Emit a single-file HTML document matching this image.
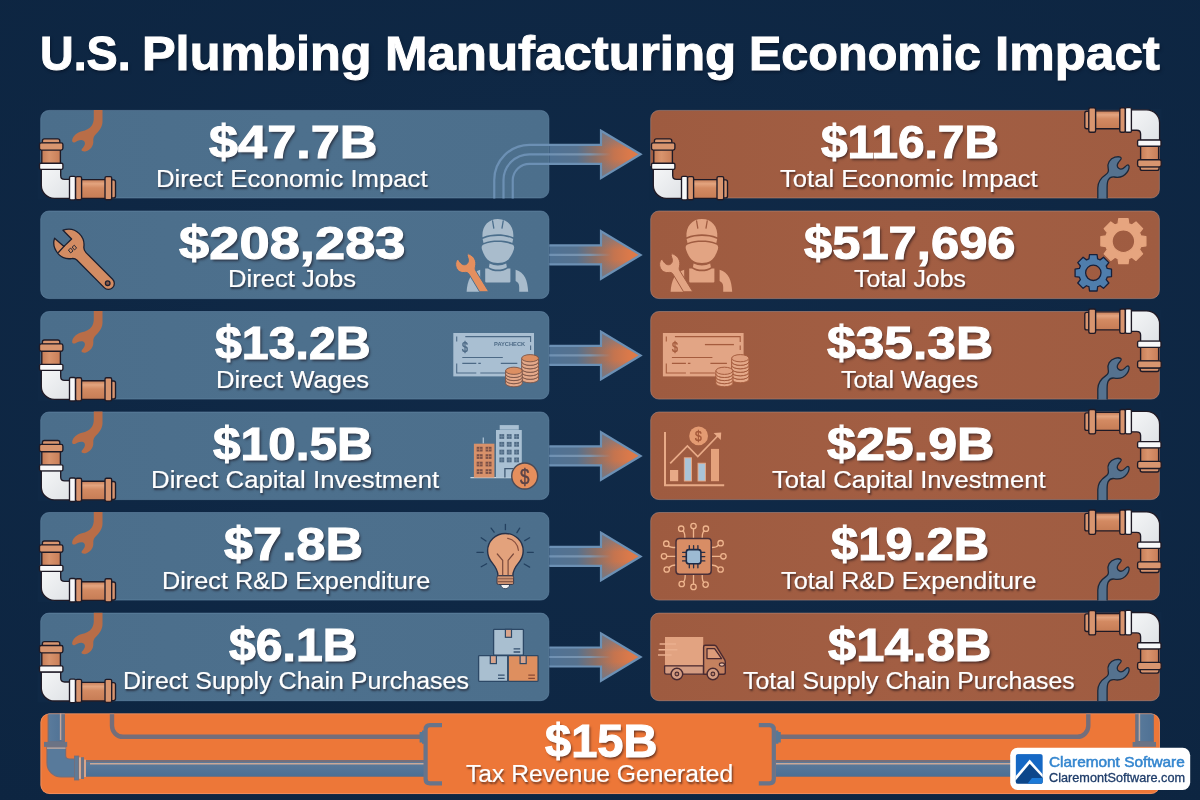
<!DOCTYPE html>
<html lang="en">
<head>
<meta charset="utf-8">
<title>U.S. Plumbing Manufacturing Economic Impact</title>
<style>
html,body{margin:0;padding:0;}
html{background:#0f2845;}
body{width:1200px;height:800px;overflow:hidden;background:#0f2845;position:relative;font-family:"Liberation Sans",sans-serif;}
#art{position:absolute;left:0;top:0;width:1200px;height:800px;display:block;}
h1{position:absolute;left:0;margin:0;padding:0;white-space:nowrap;color:#fff;font-weight:700;text-shadow:1px 2px 3px rgba(4,10,24,.55);-webkit-text-stroke:1px #fff;}
h1 .w{display:inline-block;position:relative;transform-origin:0 0;}
.t{position:absolute;white-space:nowrap;transform-origin:0 0;margin:0;padding:0;color:#fff;display:block;}
.num{font-weight:700;text-shadow:1.5px 2px 2.5px rgba(20,12,20,.6);-webkit-text-stroke:1.1px #fff;}
.lab{font-weight:400;text-shadow:1px 1.5px 2px rgba(20,12,20,.6);-webkit-text-stroke:0.2px #fff;}
.wm{font-weight:400;-webkit-text-stroke:0.5px #3486cf;}
.ico{font-weight:400;-webkit-text-stroke:0.5px currentColor;}
.icob{font-weight:700;}
.wm2{font-weight:400;-webkit-text-stroke:0.3px #1f3d6a;}
</style>
</head>
<body>
<svg id="art" width="1200" height="800" viewBox="0 0 1200 800" aria-hidden="true">
<defs>
<radialGradient id="bgg" cx="50%" cy="45%" r="75%">
<stop offset="0" stop-color="#102a48"/><stop offset="1" stop-color="#0d2541"/>
</radialGradient>
<linearGradient id="arg" x1="549" y1="0" x2="642" y2="0" gradientUnits="userSpaceOnUse">
<stop offset="0" stop-color="#4f7295"/><stop offset="0.3" stop-color="#56728f"/><stop offset="0.5" stop-color="#8a7068"/><stop offset="0.7" stop-color="#c4744f"/><stop offset="0.86" stop-color="#da794a"/><stop offset="1" stop-color="#de7b49"/>
</linearGradient>
<linearGradient id="arl" x1="540" y1="0" x2="611" y2="0" gradientUnits="userSpaceOnUse">
<stop offset="0" stop-color="#6c90b4"/><stop offset="0.7" stop-color="#7f99b3" stop-opacity=".9"/><stop offset="1" stop-color="#9a9aa6" stop-opacity="0"/>
</linearGradient>
<linearGradient id="pch" x1="0" y1="0" x2="0" y2="1">
<stop offset="0" stop-color="#c67d57"/><stop offset="0.22" stop-color="#e3a47f"/><stop offset="0.45" stop-color="#d38a62"/><stop offset="1" stop-color="#c67c55"/>
</linearGradient>
<linearGradient id="pcv" x1="0" y1="0" x2="1" y2="0">
<stop offset="0" stop-color="#c67d57"/><stop offset="0.4" stop-color="#d9946d"/><stop offset="1" stop-color="#c87e58"/>
</linearGradient>
<linearGradient id="pwh" x1="0" y1="0" x2="1" y2="1">
<stop offset="0" stop-color="#f5f6f7"/><stop offset="1" stop-color="#dfe2e6"/>
</linearGradient>
<linearGradient id="bxl" x1="0" y1="0" x2="1" y2="0">
<stop offset="0" stop-color="#4b6e8b"/><stop offset="0.5" stop-color="#4d708d"/><stop offset="1" stop-color="#4c6f8c"/>
</linearGradient>
<linearGradient id="bxr" x1="0" y1="0" x2="1" y2="0">
<stop offset="0" stop-color="#9e5b40"/><stop offset="0.5" stop-color="#a25e43"/><stop offset="1" stop-color="#9f5c41"/>
</linearGradient>
<linearGradient id="bpv" x1="0" y1="0" x2="1" y2="0">
<stop offset="0" stop-color="#5a7b9c"/><stop offset="1" stop-color="#4f7194"/>
</linearGradient>
<linearGradient id="bph" x1="0" y1="0" x2="0" y2="1">
<stop offset="0" stop-color="#5e7c9b"/><stop offset="1" stop-color="#4b6f95"/>
</linearGradient>
<linearGradient id="arv" x1="0" y1="0" x2="0" y2="1">
<stop offset="0" stop-color="#647a92" stop-opacity=".8"/><stop offset="0.4" stop-color="#647a92" stop-opacity="0"/><stop offset="0.6" stop-color="#647a92" stop-opacity="0"/><stop offset="1" stop-color="#647a92" stop-opacity=".8"/>
</linearGradient>
<filter id="soft" x="-20%" y="-20%" width="140%" height="140%"><feGaussianBlur stdDeviation="0.45"/></filter>
</defs>
<rect width="1200" height="800" fill="url(#bgg)"/>
<rect x="40.699999999999996" y="110.4" width="508.2" height="87.6" rx="8.2" fill="url(#bxl)" stroke="#6d8eae" stroke-width="0.8" stroke-opacity=".65"/>
<rect x="650.6999999999999" y="110.4" width="508.7" height="87.6" rx="8.2" fill="url(#bxr)" stroke="#b48c80" stroke-width="0.8" stroke-opacity=".7"/>
<rect x="40.699999999999996" y="211.0" width="508.2" height="87.6" rx="8.2" fill="url(#bxl)" stroke="#6d8eae" stroke-width="0.8" stroke-opacity=".65"/>
<rect x="650.6999999999999" y="211.0" width="508.7" height="87.6" rx="8.2" fill="url(#bxr)" stroke="#b48c80" stroke-width="0.8" stroke-opacity=".7"/>
<rect x="40.699999999999996" y="311.5" width="508.2" height="87.6" rx="8.2" fill="url(#bxl)" stroke="#6d8eae" stroke-width="0.8" stroke-opacity=".65"/>
<rect x="650.6999999999999" y="311.5" width="508.7" height="87.6" rx="8.2" fill="url(#bxr)" stroke="#b48c80" stroke-width="0.8" stroke-opacity=".7"/>
<rect x="40.699999999999996" y="412.0" width="508.2" height="87.6" rx="8.2" fill="url(#bxl)" stroke="#6d8eae" stroke-width="0.8" stroke-opacity=".65"/>
<rect x="650.6999999999999" y="412.0" width="508.7" height="87.6" rx="8.2" fill="url(#bxr)" stroke="#b48c80" stroke-width="0.8" stroke-opacity=".7"/>
<rect x="40.699999999999996" y="512.5" width="508.2" height="87.6" rx="8.2" fill="url(#bxl)" stroke="#6d8eae" stroke-width="0.8" stroke-opacity=".65"/>
<rect x="650.6999999999999" y="512.5" width="508.7" height="87.6" rx="8.2" fill="url(#bxr)" stroke="#b48c80" stroke-width="0.8" stroke-opacity=".7"/>
<rect x="40.699999999999996" y="613.1" width="508.2" height="87.6" rx="8.2" fill="url(#bxl)" stroke="#6d8eae" stroke-width="0.8" stroke-opacity=".65"/>
<rect x="650.6999999999999" y="613.1" width="508.7" height="87.6" rx="8.2" fill="url(#bxr)" stroke="#b48c80" stroke-width="0.8" stroke-opacity=".7"/>
<rect x="40.5" y="713.4" width="1119.4" height="80.6" rx="9" fill="#ed7738"/><clipPath id="bcl"><rect x="40.5" y="713.4" width="1119.4" height="80.6" rx="9"/></clipPath><g clip-path="url(#bcl)"><path d="M112 712 V725.8 A11 11 0 0 0 123 736.8 H420" fill="none" stroke="#746e7a" stroke-width="4.4"/><path d="M1088.3 712 V725.8 A11 11 0 0 1 1077.3 736.8 H780" fill="none" stroke="#746e7a" stroke-width="4.4"/><path d="M419.6 732 h2.4 v-1.4 h3 v13.2 h-3 v-1.4 h-2.4 z" fill="#587896"/><path d="M780.8 732 h-2.4 v-1.4 h-3 v13.2 h3 v-1.4 h2.4 z" fill="#587896"/><rect x="48.2" y="712" width="16.2" height="30" fill="url(#bpv)" stroke="#746e7a" stroke-width="1.2"/><rect x="61.6" y="712" width="2.6" height="29.5" fill="#6b7385"/><path d="M60.6 713 V740" stroke="#c2a69c" stroke-width="1.5" fill="none"/><path d="M47 747 V763 A14 14 0 0 0 61 777 H74.6 V759 H69.4 Q65.6 759 65.6 755.2 V747 Z" fill="#587a9b" stroke="#746e7a" stroke-width="1.2"/><path d="M47 748.2 H65.6" stroke="#c8aea2" stroke-width="1.3" fill="none"/><rect x="44" y="741.9" width="23.2" height="5" fill="#6b7385"/><rect x="74.4" y="756" width="4.4" height="24" fill="#607a96" stroke="#746e7a" stroke-width="0.8"/><rect x="79" y="757.4" width="1.8" height="21.4" fill="#d0b0a0"/><rect x="81" y="757.2" width="3" height="21.8" fill="#6b7385"/><rect x="84.2" y="759.6" width="1.6" height="17.4" fill="#d0b0a0"/><rect x="86" y="760" width="338" height="16.6" fill="url(#bph)"/><path d="M86 760.9 H424" stroke="#746e7a" stroke-width="2" fill="none"/><path d="M90 763.7 H424" stroke="#c9a898" stroke-width="1.5" fill="none"/><path d="M86 776.5 H424" stroke="#746e7a" stroke-width="0.9" fill="none" opacity=".8"/><rect x="776" y="760" width="240" height="16.6" fill="url(#bph)"/><path d="M776 760.9 H1016" stroke="#746e7a" stroke-width="2" fill="none"/><path d="M776 763.7 H1016" stroke="#c9a898" stroke-width="1.5" fill="none"/><path d="M776 776.5 H1016" stroke="#746e7a" stroke-width="0.9" fill="none" opacity=".8"/><rect x="1135.8" y="712" width="17.6" height="30" fill="url(#bpv)" stroke="#746e7a" stroke-width="1.2"/><rect x="1136" y="712" width="2.4" height="29.5" fill="#6b7385"/><path d="M1139.4 713 V741" stroke="#c2a69c" stroke-width="1.5" fill="none"/><rect x="1132.6" y="742" width="23.4" height="4.8" fill="#6b7385"/></g><rect x="40.9" y="713.8" width="1118.6" height="79.8" rx="8.6" fill="none" stroke="#f3a684" stroke-width="0.8" stroke-opacity=".6"/><path d="M442 725.2 H430 Q425.6 725.2 425.6 729.6 V779 Q425.6 783.4 430 783.4 H442" fill="none" stroke="#68748a" stroke-width="4.2" stroke-linecap="butt"/><path d="M758.8 725.2 H769.4 Q773.8 725.2 773.8 729.6 V779 Q773.8 783.4 769.4 783.4 H758.8" fill="none" stroke="#68748a" stroke-width="4.2" stroke-linecap="butt"/>
<path d="M549.3 144.80 H601.0 V130.70 L640.6 154.30 L601.0 178.10 V163.80 H549.3 Z" fill="url(#arg)"/>
<path d="M601.0 130.70 L640.6 154.30 L601.0 178.10 Z" fill="url(#arv)"/>
<path d="M494.25 198.60 V180.05 A35.25 35.25 0 0 1 529.5 144.80 H601.0 V130.70 L640.6 154.30 L601.0 178.10 V163.80 H529.5 A16.75 16.75 0 0 0 512.75 180.05 V198.60" fill="none" stroke="#6c90b4" stroke-width="2.2" stroke-linejoin="miter"/>
<path d="M503.5 198.60 V180.05 A26 26 0 0 1 529.5 154.30 H611" fill="none" stroke="url(#arl)" stroke-width="2.2"/>
<path d="M549.3 245.40 H601.0 V231.30 L640.6 254.90 L601.0 278.70 V264.40 H549.3 Z" fill="url(#arg)"/>
<path d="M601.0 231.30 L640.6 254.90 L601.0 278.70 Z" fill="url(#arv)"/>
<path d="M549.3 245.40 H601.0 V231.30 L640.6 254.90 L601.0 278.70 V264.40 H549.3" fill="none" stroke="#6c90b4" stroke-width="2.2" stroke-linejoin="miter"/>
<path d="M549.3 254.90 H611" fill="none" stroke="url(#arl)" stroke-width="2.2"/>
<path d="M549.3 345.90 H601.0 V331.80 L640.6 355.40 L601.0 379.20 V364.90 H549.3 Z" fill="url(#arg)"/>
<path d="M601.0 331.80 L640.6 355.40 L601.0 379.20 Z" fill="url(#arv)"/>
<path d="M549.3 345.90 H601.0 V331.80 L640.6 355.40 L601.0 379.20 V364.90 H549.3" fill="none" stroke="#6c90b4" stroke-width="2.2" stroke-linejoin="miter"/>
<path d="M549.3 355.40 H611" fill="none" stroke="url(#arl)" stroke-width="2.2"/>
<path d="M549.3 446.40 H601.0 V432.30 L640.6 455.90 L601.0 479.70 V465.40 H549.3 Z" fill="url(#arg)"/>
<path d="M601.0 432.30 L640.6 455.90 L601.0 479.70 Z" fill="url(#arv)"/>
<path d="M549.3 446.40 H601.0 V432.30 L640.6 455.90 L601.0 479.70 V465.40 H549.3" fill="none" stroke="#6c90b4" stroke-width="2.2" stroke-linejoin="miter"/>
<path d="M549.3 455.90 H611" fill="none" stroke="url(#arl)" stroke-width="2.2"/>
<path d="M549.3 546.90 H601.0 V532.80 L640.6 556.40 L601.0 580.20 V565.90 H549.3 Z" fill="url(#arg)"/>
<path d="M601.0 532.80 L640.6 556.40 L601.0 580.20 Z" fill="url(#arv)"/>
<path d="M549.3 546.90 H601.0 V532.80 L640.6 556.40 L601.0 580.20 V565.90 H549.3" fill="none" stroke="#6c90b4" stroke-width="2.2" stroke-linejoin="miter"/>
<path d="M549.3 556.40 H611" fill="none" stroke="url(#arl)" stroke-width="2.2"/>
<path d="M549.3 647.50 H601.0 V633.40 L640.6 657.00 L601.0 680.80 V666.50 H549.3 Z" fill="url(#arg)"/>
<path d="M601.0 633.40 L640.6 657.00 L601.0 680.80 Z" fill="url(#arv)"/>
<path d="M549.3 647.50 H601.0 V633.40 L640.6 657.00 L601.0 680.80 V666.50 H549.3" fill="none" stroke="#6c90b4" stroke-width="2.2" stroke-linejoin="miter"/>
<path d="M549.3 657.00 H611" fill="none" stroke="url(#arl)" stroke-width="2.2"/>
<g transform="translate(0 0.0)" fill="#b96d47" filter="url(#soft)"><path d="M93.8 110 H102.5 V120 C102.8 126 100 130 96.5 133.5 C94 136 93 138 93.3 141 C93.6 146 90.5 150 86 151.3 C83.5 152 81.3 151 81.5 149.8 C81.8 148.6 84 147 84.8 144.5 C85.4 142.3 84.3 140.6 82.3 140.2 C79.5 139.6 77 141.5 75 142.3 C73 143 71.8 141.8 72.2 139.8 C73 136 77 132.5 82 131.2 C86 130.2 89.5 129 91.8 125.5 C93.3 123 93.8 120.5 93.8 118 Z"/></g>
<path transform="translate(0 0.0)" d="M37.5 166 V199.8 H56 V198.3 H54.3 A13 13 0 0 1 41.3 185.3 V166 Z" fill="#0f2845"/><g transform="translate(0 0.0)" stroke="#1f1a26" stroke-width="1.35" stroke-linejoin="round"><rect x="41.8" y="148" width="18.6" height="16" fill="url(#pcv)"/><path d="M42.4 143.2 v-2.3 q0 -2 2 -2 h13.4 q2 0 2 2 v2.3 z" fill="#d8956f"/><rect x="39.5" y="142.8" width="23.4" height="7.3" rx="1.8" fill="#d8956f"/><path d="M41.3 169 V185.3 A13 13 0 0 0 54.3 198.3 H70 V179.3 H64.6 Q60.7 179.3 60.7 175.4 V169 Z" fill="url(#pwh)"/><rect x="39.5" y="163.2" width="23.4" height="6.1" rx="1.3" fill="#f7f8f9"/><rect x="80.5" y="179.6" width="26" height="18.7" fill="url(#pch)"/><path d="M111 179.9 h2.5 q2 0 2 2 v14 q0 2 -2 2 h-2.5 z" fill="#d8956f"/><rect x="69.5" y="176.4" width="6" height="23.5" rx="1.3" fill="#f7f8f9"/><rect x="75.6" y="176.6" width="6" height="23.1" rx="1.5" fill="#d8956f"/><rect x="105" y="176.6" width="6.7" height="23.1" rx="1.5" fill="#d8956f"/></g>
<path transform="translate(0.4 0.0)" d="M1161.5 143 V109 H1145 V109.8 H1146.2 A13 13 0 0 1 1159.2 122.8 V143 Z" fill="#0f2845"/><g transform="translate(0.4 0.0)" stroke="#1f1a26" stroke-width="1.35" stroke-linejoin="round"><path d="M1097.4 198.4 V188 C1097.4 181 1101 177.5 1105.5 174.5 C1108 172.8 1108.5 171 1107.8 168.5 C1106.5 163.5 1109.5 158.5 1114.5 157.2 C1117.5 156.4 1120.3 157 1120.8 158 C1121.3 159 1119.5 160.5 1118 162.5 C1116.3 164.8 1116.5 167 1118.3 168.3 C1120.3 169.8 1122.5 169 1124.5 167 C1126 165.5 1127.3 164.3 1128.2 165.2 C1129.2 166.2 1128.8 169.5 1126.5 172.5 C1123.5 176.5 1118.5 177.8 1114 177 C1111 176.5 1109 177.8 1107.8 180 C1106.8 182 1106.7 185 1106.7 188 V198.4" fill="#55728f" stroke="#1d2839" stroke-width="1.3"/><rect x="1095" y="110.8" width="25" height="17.9" fill="url(#pch)"/><path d="M1088.8 111.2 h-2.4 q-2 0 -2 2 v13.6 q0 2 2 2 h2.4 z" fill="#d8956f"/><rect x="1088.4" y="107.9" width="6.8" height="24.3" rx="1.5" fill="#d8956f"/><rect x="1119.4" y="107.9" width="5.6" height="24.3" rx="1.5" fill="#d8956f"/><path d="M1130.6 109.8 H1146.2 A13 13 0 0 1 1159.2 122.8 V140.4 H1140.2 V134 Q1140.2 130.2 1136.4 130.2 H1130.6 Z" fill="url(#pwh)"/><rect x="1125" y="107.6" width="6" height="24.6" rx="1.3" fill="#f7f8f9"/><rect x="1140.2" y="146" width="18" height="14" fill="url(#pcv)"/><rect x="1137.2" y="140" width="23.4" height="6.2" rx="1.3" fill="#f7f8f9"/><path d="M1139.8 166.6 v1.8 q0 2 2 2 h14.8 q2 0 2 -2 v-1.8 z" fill="#d8956f"/><rect x="1137.2" y="159.7" width="23.6" height="7.2" rx="1.8" fill="#d8956f"/></g>
<g transform="translate(0 201.1)" fill="#b96d47" filter="url(#soft)"><path d="M93.8 110 H102.5 V120 C102.8 126 100 130 96.5 133.5 C94 136 93 138 93.3 141 C93.6 146 90.5 150 86 151.3 C83.5 152 81.3 151 81.5 149.8 C81.8 148.6 84 147 84.8 144.5 C85.4 142.3 84.3 140.6 82.3 140.2 C79.5 139.6 77 141.5 75 142.3 C73 143 71.8 141.8 72.2 139.8 C73 136 77 132.5 82 131.2 C86 130.2 89.5 129 91.8 125.5 C93.3 123 93.8 120.5 93.8 118 Z"/></g>
<path transform="translate(0 201.1)" d="M37.5 166 V199.8 H56 V198.3 H54.3 A13 13 0 0 1 41.3 185.3 V166 Z" fill="#0f2845"/><g transform="translate(0 201.1)" stroke="#1f1a26" stroke-width="1.35" stroke-linejoin="round"><rect x="41.8" y="148" width="18.6" height="16" fill="url(#pcv)"/><path d="M42.4 143.2 v-2.3 q0 -2 2 -2 h13.4 q2 0 2 2 v2.3 z" fill="#d8956f"/><rect x="39.5" y="142.8" width="23.4" height="7.3" rx="1.8" fill="#d8956f"/><path d="M41.3 169 V185.3 A13 13 0 0 0 54.3 198.3 H70 V179.3 H64.6 Q60.7 179.3 60.7 175.4 V169 Z" fill="url(#pwh)"/><rect x="39.5" y="163.2" width="23.4" height="6.1" rx="1.3" fill="#f7f8f9"/><rect x="80.5" y="179.6" width="26" height="18.7" fill="url(#pch)"/><path d="M111 179.9 h2.5 q2 0 2 2 v14 q0 2 -2 2 h-2.5 z" fill="#d8956f"/><rect x="69.5" y="176.4" width="6" height="23.5" rx="1.3" fill="#f7f8f9"/><rect x="75.6" y="176.6" width="6" height="23.1" rx="1.5" fill="#d8956f"/><rect x="105" y="176.6" width="6.7" height="23.1" rx="1.5" fill="#d8956f"/></g>
<path transform="translate(0.4 201.1)" d="M1161.5 143 V109 H1145 V109.8 H1146.2 A13 13 0 0 1 1159.2 122.8 V143 Z" fill="#0f2845"/><g transform="translate(0.4 201.1)" stroke="#1f1a26" stroke-width="1.35" stroke-linejoin="round"><path d="M1097.4 198.4 V188 C1097.4 181 1101 177.5 1105.5 174.5 C1108 172.8 1108.5 171 1107.8 168.5 C1106.5 163.5 1109.5 158.5 1114.5 157.2 C1117.5 156.4 1120.3 157 1120.8 158 C1121.3 159 1119.5 160.5 1118 162.5 C1116.3 164.8 1116.5 167 1118.3 168.3 C1120.3 169.8 1122.5 169 1124.5 167 C1126 165.5 1127.3 164.3 1128.2 165.2 C1129.2 166.2 1128.8 169.5 1126.5 172.5 C1123.5 176.5 1118.5 177.8 1114 177 C1111 176.5 1109 177.8 1107.8 180 C1106.8 182 1106.7 185 1106.7 188 V198.4" fill="#55728f" stroke="#1d2839" stroke-width="1.3"/><rect x="1095" y="110.8" width="25" height="17.9" fill="url(#pch)"/><path d="M1088.8 111.2 h-2.4 q-2 0 -2 2 v13.6 q0 2 2 2 h2.4 z" fill="#d8956f"/><rect x="1088.4" y="107.9" width="6.8" height="24.3" rx="1.5" fill="#d8956f"/><rect x="1119.4" y="107.9" width="5.6" height="24.3" rx="1.5" fill="#d8956f"/><path d="M1130.6 109.8 H1146.2 A13 13 0 0 1 1159.2 122.8 V140.4 H1140.2 V134 Q1140.2 130.2 1136.4 130.2 H1130.6 Z" fill="url(#pwh)"/><rect x="1125" y="107.6" width="6" height="24.6" rx="1.3" fill="#f7f8f9"/><rect x="1140.2" y="146" width="18" height="14" fill="url(#pcv)"/><rect x="1137.2" y="140" width="23.4" height="6.2" rx="1.3" fill="#f7f8f9"/><path d="M1139.8 166.6 v1.8 q0 2 2 2 h14.8 q2 0 2 -2 v-1.8 z" fill="#d8956f"/><rect x="1137.2" y="159.7" width="23.6" height="7.2" rx="1.8" fill="#d8956f"/></g>
<g transform="translate(0 301.6)" fill="#b96d47" filter="url(#soft)"><path d="M93.8 110 H102.5 V120 C102.8 126 100 130 96.5 133.5 C94 136 93 138 93.3 141 C93.6 146 90.5 150 86 151.3 C83.5 152 81.3 151 81.5 149.8 C81.8 148.6 84 147 84.8 144.5 C85.4 142.3 84.3 140.6 82.3 140.2 C79.5 139.6 77 141.5 75 142.3 C73 143 71.8 141.8 72.2 139.8 C73 136 77 132.5 82 131.2 C86 130.2 89.5 129 91.8 125.5 C93.3 123 93.8 120.5 93.8 118 Z"/></g>
<path transform="translate(0 301.6)" d="M37.5 166 V199.8 H56 V198.3 H54.3 A13 13 0 0 1 41.3 185.3 V166 Z" fill="#0f2845"/><g transform="translate(0 301.6)" stroke="#1f1a26" stroke-width="1.35" stroke-linejoin="round"><rect x="41.8" y="148" width="18.6" height="16" fill="url(#pcv)"/><path d="M42.4 143.2 v-2.3 q0 -2 2 -2 h13.4 q2 0 2 2 v2.3 z" fill="#d8956f"/><rect x="39.5" y="142.8" width="23.4" height="7.3" rx="1.8" fill="#d8956f"/><path d="M41.3 169 V185.3 A13 13 0 0 0 54.3 198.3 H70 V179.3 H64.6 Q60.7 179.3 60.7 175.4 V169 Z" fill="url(#pwh)"/><rect x="39.5" y="163.2" width="23.4" height="6.1" rx="1.3" fill="#f7f8f9"/><rect x="80.5" y="179.6" width="26" height="18.7" fill="url(#pch)"/><path d="M111 179.9 h2.5 q2 0 2 2 v14 q0 2 -2 2 h-2.5 z" fill="#d8956f"/><rect x="69.5" y="176.4" width="6" height="23.5" rx="1.3" fill="#f7f8f9"/><rect x="75.6" y="176.6" width="6" height="23.1" rx="1.5" fill="#d8956f"/><rect x="105" y="176.6" width="6.7" height="23.1" rx="1.5" fill="#d8956f"/></g>
<path transform="translate(0.4 301.6)" d="M1161.5 143 V109 H1145 V109.8 H1146.2 A13 13 0 0 1 1159.2 122.8 V143 Z" fill="#0f2845"/><g transform="translate(0.4 301.6)" stroke="#1f1a26" stroke-width="1.35" stroke-linejoin="round"><path d="M1097.4 198.4 V188 C1097.4 181 1101 177.5 1105.5 174.5 C1108 172.8 1108.5 171 1107.8 168.5 C1106.5 163.5 1109.5 158.5 1114.5 157.2 C1117.5 156.4 1120.3 157 1120.8 158 C1121.3 159 1119.5 160.5 1118 162.5 C1116.3 164.8 1116.5 167 1118.3 168.3 C1120.3 169.8 1122.5 169 1124.5 167 C1126 165.5 1127.3 164.3 1128.2 165.2 C1129.2 166.2 1128.8 169.5 1126.5 172.5 C1123.5 176.5 1118.5 177.8 1114 177 C1111 176.5 1109 177.8 1107.8 180 C1106.8 182 1106.7 185 1106.7 188 V198.4" fill="#55728f" stroke="#1d2839" stroke-width="1.3"/><rect x="1095" y="110.8" width="25" height="17.9" fill="url(#pch)"/><path d="M1088.8 111.2 h-2.4 q-2 0 -2 2 v13.6 q0 2 2 2 h2.4 z" fill="#d8956f"/><rect x="1088.4" y="107.9" width="6.8" height="24.3" rx="1.5" fill="#d8956f"/><rect x="1119.4" y="107.9" width="5.6" height="24.3" rx="1.5" fill="#d8956f"/><path d="M1130.6 109.8 H1146.2 A13 13 0 0 1 1159.2 122.8 V140.4 H1140.2 V134 Q1140.2 130.2 1136.4 130.2 H1130.6 Z" fill="url(#pwh)"/><rect x="1125" y="107.6" width="6" height="24.6" rx="1.3" fill="#f7f8f9"/><rect x="1140.2" y="146" width="18" height="14" fill="url(#pcv)"/><rect x="1137.2" y="140" width="23.4" height="6.2" rx="1.3" fill="#f7f8f9"/><path d="M1139.8 166.6 v1.8 q0 2 2 2 h14.8 q2 0 2 -2 v-1.8 z" fill="#d8956f"/><rect x="1137.2" y="159.7" width="23.6" height="7.2" rx="1.8" fill="#d8956f"/></g>
<g transform="translate(0 402.1)" fill="#b96d47" filter="url(#soft)"><path d="M93.8 110 H102.5 V120 C102.8 126 100 130 96.5 133.5 C94 136 93 138 93.3 141 C93.6 146 90.5 150 86 151.3 C83.5 152 81.3 151 81.5 149.8 C81.8 148.6 84 147 84.8 144.5 C85.4 142.3 84.3 140.6 82.3 140.2 C79.5 139.6 77 141.5 75 142.3 C73 143 71.8 141.8 72.2 139.8 C73 136 77 132.5 82 131.2 C86 130.2 89.5 129 91.8 125.5 C93.3 123 93.8 120.5 93.8 118 Z"/></g>
<path transform="translate(0 402.1)" d="M37.5 166 V199.8 H56 V198.3 H54.3 A13 13 0 0 1 41.3 185.3 V166 Z" fill="#0f2845"/><g transform="translate(0 402.1)" stroke="#1f1a26" stroke-width="1.35" stroke-linejoin="round"><rect x="41.8" y="148" width="18.6" height="16" fill="url(#pcv)"/><path d="M42.4 143.2 v-2.3 q0 -2 2 -2 h13.4 q2 0 2 2 v2.3 z" fill="#d8956f"/><rect x="39.5" y="142.8" width="23.4" height="7.3" rx="1.8" fill="#d8956f"/><path d="M41.3 169 V185.3 A13 13 0 0 0 54.3 198.3 H70 V179.3 H64.6 Q60.7 179.3 60.7 175.4 V169 Z" fill="url(#pwh)"/><rect x="39.5" y="163.2" width="23.4" height="6.1" rx="1.3" fill="#f7f8f9"/><rect x="80.5" y="179.6" width="26" height="18.7" fill="url(#pch)"/><path d="M111 179.9 h2.5 q2 0 2 2 v14 q0 2 -2 2 h-2.5 z" fill="#d8956f"/><rect x="69.5" y="176.4" width="6" height="23.5" rx="1.3" fill="#f7f8f9"/><rect x="75.6" y="176.6" width="6" height="23.1" rx="1.5" fill="#d8956f"/><rect x="105" y="176.6" width="6.7" height="23.1" rx="1.5" fill="#d8956f"/></g>
<path transform="translate(0.4 402.1)" d="M1161.5 143 V109 H1145 V109.8 H1146.2 A13 13 0 0 1 1159.2 122.8 V143 Z" fill="#0f2845"/><g transform="translate(0.4 402.1)" stroke="#1f1a26" stroke-width="1.35" stroke-linejoin="round"><path d="M1097.4 198.4 V188 C1097.4 181 1101 177.5 1105.5 174.5 C1108 172.8 1108.5 171 1107.8 168.5 C1106.5 163.5 1109.5 158.5 1114.5 157.2 C1117.5 156.4 1120.3 157 1120.8 158 C1121.3 159 1119.5 160.5 1118 162.5 C1116.3 164.8 1116.5 167 1118.3 168.3 C1120.3 169.8 1122.5 169 1124.5 167 C1126 165.5 1127.3 164.3 1128.2 165.2 C1129.2 166.2 1128.8 169.5 1126.5 172.5 C1123.5 176.5 1118.5 177.8 1114 177 C1111 176.5 1109 177.8 1107.8 180 C1106.8 182 1106.7 185 1106.7 188 V198.4" fill="#55728f" stroke="#1d2839" stroke-width="1.3"/><rect x="1095" y="110.8" width="25" height="17.9" fill="url(#pch)"/><path d="M1088.8 111.2 h-2.4 q-2 0 -2 2 v13.6 q0 2 2 2 h2.4 z" fill="#d8956f"/><rect x="1088.4" y="107.9" width="6.8" height="24.3" rx="1.5" fill="#d8956f"/><rect x="1119.4" y="107.9" width="5.6" height="24.3" rx="1.5" fill="#d8956f"/><path d="M1130.6 109.8 H1146.2 A13 13 0 0 1 1159.2 122.8 V140.4 H1140.2 V134 Q1140.2 130.2 1136.4 130.2 H1130.6 Z" fill="url(#pwh)"/><rect x="1125" y="107.6" width="6" height="24.6" rx="1.3" fill="#f7f8f9"/><rect x="1140.2" y="146" width="18" height="14" fill="url(#pcv)"/><rect x="1137.2" y="140" width="23.4" height="6.2" rx="1.3" fill="#f7f8f9"/><path d="M1139.8 166.6 v1.8 q0 2 2 2 h14.8 q2 0 2 -2 v-1.8 z" fill="#d8956f"/><rect x="1137.2" y="159.7" width="23.6" height="7.2" rx="1.8" fill="#d8956f"/></g>
<g transform="translate(0 502.7)" fill="#b96d47" filter="url(#soft)"><path d="M93.8 110 H102.5 V120 C102.8 126 100 130 96.5 133.5 C94 136 93 138 93.3 141 C93.6 146 90.5 150 86 151.3 C83.5 152 81.3 151 81.5 149.8 C81.8 148.6 84 147 84.8 144.5 C85.4 142.3 84.3 140.6 82.3 140.2 C79.5 139.6 77 141.5 75 142.3 C73 143 71.8 141.8 72.2 139.8 C73 136 77 132.5 82 131.2 C86 130.2 89.5 129 91.8 125.5 C93.3 123 93.8 120.5 93.8 118 Z"/></g>
<path transform="translate(0 502.7)" d="M37.5 166 V199.8 H56 V198.3 H54.3 A13 13 0 0 1 41.3 185.3 V166 Z" fill="#0f2845"/><g transform="translate(0 502.7)" stroke="#1f1a26" stroke-width="1.35" stroke-linejoin="round"><rect x="41.8" y="148" width="18.6" height="16" fill="url(#pcv)"/><path d="M42.4 143.2 v-2.3 q0 -2 2 -2 h13.4 q2 0 2 2 v2.3 z" fill="#d8956f"/><rect x="39.5" y="142.8" width="23.4" height="7.3" rx="1.8" fill="#d8956f"/><path d="M41.3 169 V185.3 A13 13 0 0 0 54.3 198.3 H70 V179.3 H64.6 Q60.7 179.3 60.7 175.4 V169 Z" fill="url(#pwh)"/><rect x="39.5" y="163.2" width="23.4" height="6.1" rx="1.3" fill="#f7f8f9"/><rect x="80.5" y="179.6" width="26" height="18.7" fill="url(#pch)"/><path d="M111 179.9 h2.5 q2 0 2 2 v14 q0 2 -2 2 h-2.5 z" fill="#d8956f"/><rect x="69.5" y="176.4" width="6" height="23.5" rx="1.3" fill="#f7f8f9"/><rect x="75.6" y="176.6" width="6" height="23.1" rx="1.5" fill="#d8956f"/><rect x="105" y="176.6" width="6.7" height="23.1" rx="1.5" fill="#d8956f"/></g>
<path transform="translate(0.4 502.7)" d="M1161.5 143 V109 H1145 V109.8 H1146.2 A13 13 0 0 1 1159.2 122.8 V143 Z" fill="#0f2845"/><g transform="translate(0.4 502.7)" stroke="#1f1a26" stroke-width="1.35" stroke-linejoin="round"><path d="M1097.4 198.4 V188 C1097.4 181 1101 177.5 1105.5 174.5 C1108 172.8 1108.5 171 1107.8 168.5 C1106.5 163.5 1109.5 158.5 1114.5 157.2 C1117.5 156.4 1120.3 157 1120.8 158 C1121.3 159 1119.5 160.5 1118 162.5 C1116.3 164.8 1116.5 167 1118.3 168.3 C1120.3 169.8 1122.5 169 1124.5 167 C1126 165.5 1127.3 164.3 1128.2 165.2 C1129.2 166.2 1128.8 169.5 1126.5 172.5 C1123.5 176.5 1118.5 177.8 1114 177 C1111 176.5 1109 177.8 1107.8 180 C1106.8 182 1106.7 185 1106.7 188 V198.4" fill="#55728f" stroke="#1d2839" stroke-width="1.3"/><rect x="1095" y="110.8" width="25" height="17.9" fill="url(#pch)"/><path d="M1088.8 111.2 h-2.4 q-2 0 -2 2 v13.6 q0 2 2 2 h2.4 z" fill="#d8956f"/><rect x="1088.4" y="107.9" width="6.8" height="24.3" rx="1.5" fill="#d8956f"/><rect x="1119.4" y="107.9" width="5.6" height="24.3" rx="1.5" fill="#d8956f"/><path d="M1130.6 109.8 H1146.2 A13 13 0 0 1 1159.2 122.8 V140.4 H1140.2 V134 Q1140.2 130.2 1136.4 130.2 H1130.6 Z" fill="url(#pwh)"/><rect x="1125" y="107.6" width="6" height="24.6" rx="1.3" fill="#f7f8f9"/><rect x="1140.2" y="146" width="18" height="14" fill="url(#pcv)"/><rect x="1137.2" y="140" width="23.4" height="6.2" rx="1.3" fill="#f7f8f9"/><path d="M1139.8 166.6 v1.8 q0 2 2 2 h14.8 q2 0 2 -2 v-1.8 z" fill="#d8956f"/><rect x="1137.2" y="159.7" width="23.6" height="7.2" rx="1.8" fill="#d8956f"/></g>
<path transform="translate(612 0.0)" d="M37.5 166 V199.8 H56 V198.3 H54.3 A13 13 0 0 1 41.3 185.3 V166 Z" fill="#0f2845"/><g transform="translate(612 0.0)" stroke="#1f1a26" stroke-width="1.35" stroke-linejoin="round"><rect x="41.8" y="148" width="18.6" height="16" fill="url(#pcv)"/><path d="M42.4 143.2 v-2.3 q0 -2 2 -2 h13.4 q2 0 2 2 v2.3 z" fill="#d8956f"/><rect x="39.5" y="142.8" width="23.4" height="7.3" rx="1.8" fill="#d8956f"/><path d="M41.3 169 V185.3 A13 13 0 0 0 54.3 198.3 H70 V179.3 H64.6 Q60.7 179.3 60.7 175.4 V169 Z" fill="url(#pwh)"/><rect x="39.5" y="163.2" width="23.4" height="6.1" rx="1.3" fill="#f7f8f9"/><rect x="80.5" y="179.6" width="26" height="18.7" fill="url(#pch)"/><path d="M111 179.9 h2.5 q2 0 2 2 v14 q0 2 -2 2 h-2.5 z" fill="#d8956f"/><rect x="69.5" y="176.4" width="6" height="23.5" rx="1.3" fill="#f7f8f9"/><rect x="75.6" y="176.6" width="6" height="23.1" rx="1.5" fill="#d8956f"/><rect x="105" y="176.6" width="6.7" height="23.1" rx="1.5" fill="#d8956f"/></g>
<g stroke="#1c2030" stroke-width="1.3" stroke-linejoin="round" stroke-linecap="round"><path d="M63 230.2 C68.5 228.3 75 229.3 79.3 233.6 C83.3 237.6 84.4 242.6 83.9 246.6 C83.6 249.2 84.2 250.8 86 252.6 L112.6 279.2 A5.9 5.9 0 0 1 104.2 287.6 L76.8 260 C75.3 258.5 73.6 258.3 71.5 258.6 C66 259.3 61.2 257.5 58 253.6 C54 248.8 52.8 243.3 54.6 238.2 L64 246.4 L71.6 239 Z" fill="#d38c63"/><path d="M64 246.4 L58.6 252.2" fill="none"/><circle cx="107.7" cy="283.2" r="2.3" fill="#8b5a4a"/><path d="M68.6 250.3 l2 2.6 l2.4 -1.9 l-2 -2.6 z M72.4 247.3 l2 2.6 l2.2 -1.8 l-2 -2.6 z" fill="none" stroke-width="0.9"/></g><g transform="translate(0 0)"><g fill="#a9bccc"><path d="M482.5 237.3 C481.6 226.5 488 218.9 497.9 218.9 C507.8 218.9 514.2 226.5 513.3 237.3 C508 235 503 234.3 497.9 234.3 C492.8 234.3 487.8 235 482.5 237.3 Z"/><path d="M482.6 239 C488 236.5 493 235.9 497.9 235.9 C502.8 235.9 507.8 236.5 513.2 239 L512.3 242.9 C507.5 240.9 503 240.4 497.9 240.4 C492.8 240.4 488.3 240.9 483.5 242.9 Z"/><path d="M483.6 244.6 C488.3 242.6 493 242 497.9 242 C502.8 242 507.5 242.6 512.2 244.6 C514.3 245.5 514.4 247.4 513.8 249.4 C512.2 254.4 510.2 258 507 260.5 C504.4 262.4 501 262.9 497.9 262.9 C494.8 262.9 491.4 262.4 488.8 260.5 C485.6 258 483.6 254.4 482 249.4 C481.4 247.4 481.5 245.5 483.6 244.6 Z"/><path d="M489.6 263.6 C494.5 266.2 501.3 266.2 506.2 263.6 L506.9 267.3 C502 270.4 493.8 270.4 488.9 267.3 Z"/><path d="M485.2 268.4 H488 C493.5 272.3 502.3 272.3 507.8 268.4 H510.4 V281.4 Q510.4 282.4 509.4 282.4 H486.2 Q485.2 282.4 485.2 281.4 Z"/><path d="M480.2 269.8 V291.8 H466.6 C467.2 280.5 471 272.6 480.2 269.8 Z"/><path d="M515.6 269.8 C524.8 272.6 527.6 280.5 528.2 291.8 H519.2 V287 C519.2 283.6 517.6 282 515.6 281 Z"/></g><path d="M492.6 221 L493.8 228.2 M503.2 221 L502 228.2" stroke="#4b6e8c" stroke-width="1.3" stroke-linecap="round" fill="none"/><path d="M467.4 253.6 C472.5 254.6 476.3 259.2 475.8 264.4 C475.6 267 474.6 268.6 475.6 270.4 L488.8 291.8 H479.6 L469 274.2 C467.8 272.4 466.4 272.2 464.2 272.5 C460 273 456.4 270.2 455.7 265.6 C455.3 262.8 456.2 260.2 458 259 C459.2 260.6 460.2 263.4 462.6 264.4 C465.6 265.6 468.2 263.8 468.4 260.8 C468.6 258.2 466.6 256.2 467.4 253.6 Z" fill="#e58f5e" stroke="#4b6e8c" stroke-width="1" stroke-linejoin="round"/></g><g transform="translate(204 0)"><g fill="#e2a483"><path d="M482.5 237.3 C481.6 226.5 488 218.9 497.9 218.9 C507.8 218.9 514.2 226.5 513.3 237.3 C508 235 503 234.3 497.9 234.3 C492.8 234.3 487.8 235 482.5 237.3 Z"/><path d="M482.6 239 C488 236.5 493 235.9 497.9 235.9 C502.8 235.9 507.8 236.5 513.2 239 L512.3 242.9 C507.5 240.9 503 240.4 497.9 240.4 C492.8 240.4 488.3 240.9 483.5 242.9 Z"/><path d="M483.6 244.6 C488.3 242.6 493 242 497.9 242 C502.8 242 507.5 242.6 512.2 244.6 C514.3 245.5 514.4 247.4 513.8 249.4 C512.2 254.4 510.2 258 507 260.5 C504.4 262.4 501 262.9 497.9 262.9 C494.8 262.9 491.4 262.4 488.8 260.5 C485.6 258 483.6 254.4 482 249.4 C481.4 247.4 481.5 245.5 483.6 244.6 Z"/><path d="M489.6 263.6 C494.5 266.2 501.3 266.2 506.2 263.6 L506.9 267.3 C502 270.4 493.8 270.4 488.9 267.3 Z"/><path d="M485.2 268.4 H488 C493.5 272.3 502.3 272.3 507.8 268.4 H510.4 V281.4 Q510.4 282.4 509.4 282.4 H486.2 Q485.2 282.4 485.2 281.4 Z"/><path d="M480.2 269.8 V291.8 H466.6 C467.2 280.5 471 272.6 480.2 269.8 Z"/><path d="M515.6 269.8 C524.8 272.6 527.6 280.5 528.2 291.8 H519.2 V287 C519.2 283.6 517.6 282 515.6 281 Z"/></g><path d="M492.6 221 L493.8 228.2 M503.2 221 L502 228.2" stroke="#a05c41" stroke-width="1.3" stroke-linecap="round" fill="none"/><path d="M467.4 253.6 C472.5 254.6 476.3 259.2 475.8 264.4 C475.6 267 474.6 268.6 475.6 270.4 L488.8 291.8 H479.6 L469 274.2 C467.8 272.4 466.4 272.2 464.2 272.5 C460 273 456.4 270.2 455.7 265.6 C455.3 262.8 456.2 260.2 458 259 C459.2 260.6 460.2 263.4 462.6 264.4 C465.6 265.6 468.2 263.8 468.4 260.8 C468.6 258.2 466.6 256.2 467.4 253.6 Z" fill="#e2a483" stroke="#a05c41" stroke-width="1" stroke-linejoin="round"/></g><path d="M1117.99 223.82 L1118.73 218.68 L1128.07 218.68 L1128.81 223.82 A18.20 18.20 0 0 1 1131.86 225.09 L1131.86 225.09 L1136.02 221.97 L1142.63 228.58 L1139.51 232.74 A18.20 18.20 0 0 1 1140.78 235.79 L1140.78 235.79 L1145.92 236.53 L1145.92 245.87 L1140.78 246.61 A18.20 18.20 0 0 1 1139.51 249.66 L1139.51 249.66 L1142.63 253.82 L1136.02 260.43 L1131.86 257.31 A18.20 18.20 0 0 1 1128.81 258.58 L1128.81 258.58 L1128.07 263.72 L1118.73 263.72 L1117.99 258.58 A18.20 18.20 0 0 1 1114.94 257.31 L1114.94 257.31 L1110.78 260.43 L1104.17 253.82 L1107.29 249.66 A18.20 18.20 0 0 1 1106.02 246.61 L1106.02 246.61 L1100.88 245.87 L1100.88 236.53 L1106.02 235.79 A18.20 18.20 0 0 1 1107.29 232.74 L1107.29 232.74 L1104.17 228.58 L1110.78 221.97 L1114.94 225.09 A18.20 18.20 0 0 1 1117.99 223.82 Z M1134.7 241.2 A11.3 11.3 0 1 0 1112.1 241.2 A11.3 11.3 0 1 0 1134.7 241.2 Z" fill="#e6a57f" fill-rule="evenodd" stroke="#e6a57f" stroke-width="1.2" stroke-linejoin="round"/><path d="M1088.96 258.86 L1089.52 254.59 L1097.08 254.59 L1097.64 258.86 A14.60 14.60 0 0 1 1100.09 259.87 L1100.09 259.87 L1103.51 257.25 L1108.85 262.59 L1106.23 266.01 A14.60 14.60 0 0 1 1107.24 268.46 L1107.24 268.46 L1111.51 269.02 L1111.51 276.58 L1107.24 277.14 A14.60 14.60 0 0 1 1106.23 279.59 L1106.23 279.59 L1108.85 283.01 L1103.51 288.35 L1100.09 285.73 A14.60 14.60 0 0 1 1097.64 286.74 L1097.64 286.74 L1097.08 291.01 L1089.52 291.01 L1088.96 286.74 A14.60 14.60 0 0 1 1086.51 285.73 L1086.51 285.73 L1083.09 288.35 L1077.75 283.01 L1080.37 279.59 A14.60 14.60 0 0 1 1079.36 277.14 L1079.36 277.14 L1075.09 276.58 L1075.09 269.02 L1079.36 268.46 A14.60 14.60 0 0 1 1080.37 266.01 L1080.37 266.01 L1077.75 262.59 L1083.09 257.25 L1086.51 259.87 A14.60 14.60 0 0 1 1088.96 258.86 Z M1101 272.8 A7.7 7.7 0 1 0 1085.6 272.8 A7.7 7.7 0 1 0 1101 272.8 Z" fill="#4f7dac" fill-rule="evenodd" stroke="#18203a" stroke-width="1.3" stroke-linejoin="round"/>
<rect x="453.3" y="333.0" width="80.7" height="43.4" fill="#a9bfd2"/><g fill="none" stroke="#4d6a86" stroke-width="1.1"><path d="M465.3 336.6 H530.6 V342.0 M530.6 345.6 V350.0 M456.7 336.6 V341.6 M456.7 363.5 V373.0 H476.3 M480.3 373.0 H505.3"/><path d="M462.3 357.5 H502.8 M462.3 363.4 H476.3 M478.3 363.4 H480.8 M500.8 363.4 H517.3" stroke-width="1.2"/></g><path d="M521.7 375.7 V379.2 A8.4 3.6 0 0 0 538.5 379.2 V375.7 Z" fill="#e4a98a" stroke="#7a5446" stroke-width="0.9"/><ellipse cx="530.1" cy="375.7" rx="8.4" ry="3.6" fill="#e4a98a" stroke="#7a5446" stroke-width="0.9"/><path d="M521.7 372.2 V375.7 A8.4 3.6 0 0 0 538.5 375.7 V372.2 Z" fill="#e4a98a" stroke="#7a5446" stroke-width="0.9"/><ellipse cx="530.1" cy="372.2" rx="8.4" ry="3.6" fill="#e4a98a" stroke="#7a5446" stroke-width="0.9"/><path d="M521.7 368.7 V372.2 A8.4 3.6 0 0 0 538.5 372.2 V368.7 Z" fill="#e4a98a" stroke="#7a5446" stroke-width="0.9"/><ellipse cx="530.1" cy="368.7" rx="8.4" ry="3.6" fill="#e4a98a" stroke="#7a5446" stroke-width="0.9"/><path d="M521.7 365.2 V368.7 A8.4 3.6 0 0 0 538.5 368.7 V365.2 Z" fill="#e4a98a" stroke="#7a5446" stroke-width="0.9"/><ellipse cx="530.1" cy="365.2" rx="8.4" ry="3.6" fill="#e4a98a" stroke="#7a5446" stroke-width="0.9"/><path d="M521.7 361.7 V365.2 A8.4 3.6 0 0 0 538.5 365.2 V361.7 Z" fill="#e4a98a" stroke="#7a5446" stroke-width="0.9"/><ellipse cx="530.1" cy="361.7" rx="8.4" ry="3.6" fill="#e4a98a" stroke="#7a5446" stroke-width="0.9"/><path d="M521.7 358.2 V361.7 A8.4 3.6 0 0 0 538.5 361.7 V358.2 Z" fill="#e4a98a" stroke="#7a5446" stroke-width="0.9"/><ellipse cx="530.1" cy="358.2" rx="8.4" ry="3.6" fill="#dc8f62" stroke="#7a5446" stroke-width="0.9"/><path d="M505.6 380.1 V383.2 A8.3 3.6 0 0 0 522.2 383.2 V380.1 Z" fill="#e4a98a" stroke="#7a5446" stroke-width="0.9"/><ellipse cx="513.9" cy="380.1" rx="8.3" ry="3.6" fill="#e4a98a" stroke="#7a5446" stroke-width="0.9"/><path d="M505.6 377.0 V380.1 A8.3 3.6 0 0 0 522.2 380.1 V377.0 Z" fill="#e4a98a" stroke="#7a5446" stroke-width="0.9"/><ellipse cx="513.9" cy="377.0" rx="8.3" ry="3.6" fill="#e4a98a" stroke="#7a5446" stroke-width="0.9"/><path d="M505.6 373.9 V377.0 A8.3 3.6 0 0 0 522.2 377.0 V373.9 Z" fill="#e4a98a" stroke="#7a5446" stroke-width="0.9"/><ellipse cx="513.9" cy="373.9" rx="8.3" ry="3.6" fill="#e4a98a" stroke="#7a5446" stroke-width="0.9"/><path d="M505.6 370.8 V373.9 A8.3 3.6 0 0 0 522.2 373.9 V370.8 Z" fill="#e4a98a" stroke="#7a5446" stroke-width="0.9"/><ellipse cx="513.9" cy="370.8" rx="8.3" ry="3.6" fill="#dc8f62" stroke="#7a5446" stroke-width="0.9"/><rect x="662.9" y="333.0" width="80.7" height="43.4" fill="#e2a585"/><g fill="none" stroke="#a55c3e" stroke-width="1.1"><path d="M674.9 336.6 H740.2 V342.0 M740.2 345.6 V350.0 M666.3 336.6 V341.6 M666.3 363.5 V373.0 H685.9 M689.9 373.0 H714.9"/><path d="M671.9 357.5 H712.4 M671.9 363.4 H685.9 M687.9 363.4 H690.4 M710.4 363.4 H726.9" stroke-width="1.2"/><path d="M704.9 344.6 H733.9" stroke-width="1.3"/></g><path d="M731.7 375.7 V379.2 A8.6 3.6 0 0 0 748.9 379.2 V375.7 Z" fill="#e4a888" stroke="#a55c3e" stroke-width="1.0"/><ellipse cx="740.3" cy="375.7" rx="8.6" ry="3.6" fill="#e4a888" stroke="#a55c3e" stroke-width="1.0"/><path d="M731.7 372.2 V375.7 A8.6 3.6 0 0 0 748.9 375.7 V372.2 Z" fill="#e4a888" stroke="#a55c3e" stroke-width="1.0"/><ellipse cx="740.3" cy="372.2" rx="8.6" ry="3.6" fill="#e4a888" stroke="#a55c3e" stroke-width="1.0"/><path d="M731.7 368.7 V372.2 A8.6 3.6 0 0 0 748.9 372.2 V368.7 Z" fill="#e4a888" stroke="#a55c3e" stroke-width="1.0"/><ellipse cx="740.3" cy="368.7" rx="8.6" ry="3.6" fill="#e4a888" stroke="#a55c3e" stroke-width="1.0"/><path d="M731.7 365.2 V368.7 A8.6 3.6 0 0 0 748.9 368.7 V365.2 Z" fill="#e4a888" stroke="#a55c3e" stroke-width="1.0"/><ellipse cx="740.3" cy="365.2" rx="8.6" ry="3.6" fill="#e4a888" stroke="#a55c3e" stroke-width="1.0"/><path d="M731.7 361.7 V365.2 A8.6 3.6 0 0 0 748.9 365.2 V361.7 Z" fill="#e4a888" stroke="#a55c3e" stroke-width="1.0"/><ellipse cx="740.3" cy="361.7" rx="8.6" ry="3.6" fill="#e4a888" stroke="#a55c3e" stroke-width="1.0"/><path d="M731.7 358.2 V361.7 A8.6 3.6 0 0 0 748.9 361.7 V358.2 Z" fill="#e4a888" stroke="#a55c3e" stroke-width="1.0"/><ellipse cx="740.3" cy="358.2" rx="8.6" ry="3.6" fill="#e0a080" stroke="#a55c3e" stroke-width="1.0"/><path d="M715.9 380.1 V383.2 A8.5 3.6 0 0 0 732.9 383.2 V380.1 Z" fill="#e4a888" stroke="#a55c3e" stroke-width="1.0"/><ellipse cx="724.4" cy="380.1" rx="8.5" ry="3.6" fill="#e4a888" stroke="#a55c3e" stroke-width="1.0"/><path d="M715.9 377.0 V380.1 A8.5 3.6 0 0 0 732.9 380.1 V377.0 Z" fill="#e4a888" stroke="#a55c3e" stroke-width="1.0"/><ellipse cx="724.4" cy="377.0" rx="8.5" ry="3.6" fill="#e4a888" stroke="#a55c3e" stroke-width="1.0"/><path d="M715.9 373.9 V377.0 A8.5 3.6 0 0 0 732.9 377.0 V373.9 Z" fill="#e4a888" stroke="#a55c3e" stroke-width="1.0"/><ellipse cx="724.4" cy="373.9" rx="8.5" ry="3.6" fill="#e4a888" stroke="#a55c3e" stroke-width="1.0"/><path d="M715.9 370.8 V373.9 A8.5 3.6 0 0 0 732.9 373.9 V370.8 Z" fill="#e4a888" stroke="#a55c3e" stroke-width="1.0"/><ellipse cx="724.4" cy="370.8" rx="8.5" ry="3.6" fill="#e0a080" stroke="#a55c3e" stroke-width="1.0"/>
<path d="M470.4 477.7 H512" stroke="#c9d6e0" stroke-width="1.3" fill="none"/><path d="M483.3 437.4 V443.6" stroke="#a9c0d3" stroke-width="1.3" fill="none"/><rect x="473.9" y="443.7" width="20.5" height="33.9" fill="#d8916a"/><rect x="476.7" y="446.8" width="5.9" height="4.7" fill="#7a5046"/><path d="M479.6 446.8 V451.5 M476.7 449.2 H482.6" stroke="#d8916a" stroke-width="0.6" fill="none"/><rect x="485.6" y="446.8" width="5.9" height="4.7" fill="#7a5046"/><path d="M488.5 446.8 V451.5 M485.6 449.2 H491.5" stroke="#d8916a" stroke-width="0.6" fill="none"/><rect x="476.7" y="454.2" width="5.9" height="4.7" fill="#7a5046"/><path d="M479.6 454.2 V458.9 M476.7 456.6 H482.6" stroke="#d8916a" stroke-width="0.6" fill="none"/><rect x="485.6" y="454.2" width="5.9" height="4.7" fill="#7a5046"/><path d="M488.5 454.2 V458.9 M485.6 456.6 H491.5" stroke="#d8916a" stroke-width="0.6" fill="none"/><rect x="476.7" y="461.7" width="5.9" height="4.7" fill="#7a5046"/><path d="M479.6 461.7 V466.4 M476.7 464.1 H482.6" stroke="#d8916a" stroke-width="0.6" fill="none"/><rect x="485.6" y="461.7" width="5.9" height="4.7" fill="#7a5046"/><path d="M488.5 461.7 V466.4 M485.6 464.1 H491.5" stroke="#d8916a" stroke-width="0.6" fill="none"/><rect x="476.7" y="469.2" width="5.9" height="4.7" fill="#7a5046"/><path d="M479.6 469.2 V473.9 M476.7 471.5 H482.6" stroke="#d8916a" stroke-width="0.6" fill="none"/><rect x="485.6" y="469.2" width="5.9" height="4.7" fill="#7a5046"/><path d="M488.5 469.2 V473.9 M485.6 471.5 H491.5" stroke="#d8916a" stroke-width="0.6" fill="none"/><rect x="499.7" y="425.1" width="19.1" height="4.6" fill="#a9c0d3"/><rect x="496" y="430" width="25.8" height="47.7" fill="#a9c0d3"/><rect x="499.4" y="434.1" width="4.8" height="4.8" fill="#4f6a84"/><path d="M501.8 434.1 V438.9 M499.4 436.5 H504.2" stroke="#7f99b0" stroke-width="0.5" fill="none"/><rect x="506.8" y="434.1" width="4.8" height="4.8" fill="#4f6a84"/><path d="M509.2 434.1 V438.9 M506.8 436.5 H511.6" stroke="#7f99b0" stroke-width="0.5" fill="none"/><rect x="514.2" y="434.1" width="4.8" height="4.8" fill="#4f6a84"/><path d="M516.6 434.1 V438.9 M514.2 436.5 H519.0" stroke="#7f99b0" stroke-width="0.5" fill="none"/><rect x="499.4" y="441.9" width="4.8" height="4.8" fill="#4f6a84"/><path d="M501.8 441.9 V446.7 M499.4 444.3 H504.2" stroke="#7f99b0" stroke-width="0.5" fill="none"/><rect x="506.8" y="441.9" width="4.8" height="4.8" fill="#4f6a84"/><path d="M509.2 441.9 V446.7 M506.8 444.3 H511.6" stroke="#7f99b0" stroke-width="0.5" fill="none"/><rect x="514.2" y="441.9" width="4.8" height="4.8" fill="#4f6a84"/><path d="M516.6 441.9 V446.7 M514.2 444.3 H519.0" stroke="#7f99b0" stroke-width="0.5" fill="none"/><rect x="499.4" y="449.7" width="4.8" height="4.8" fill="#4f6a84"/><path d="M501.8 449.7 V454.5 M499.4 452.1 H504.2" stroke="#7f99b0" stroke-width="0.5" fill="none"/><rect x="506.8" y="449.7" width="4.8" height="4.8" fill="#4f6a84"/><path d="M509.2 449.7 V454.5 M506.8 452.1 H511.6" stroke="#7f99b0" stroke-width="0.5" fill="none"/><rect x="514.2" y="449.7" width="4.8" height="4.8" fill="#4f6a84"/><path d="M516.6 449.7 V454.5 M514.2 452.1 H519.0" stroke="#7f99b0" stroke-width="0.5" fill="none"/><rect x="499.4" y="457.5" width="4.8" height="4.8" fill="#4f6a84"/><path d="M501.8 457.5 V462.3 M499.4 459.9 H504.2" stroke="#7f99b0" stroke-width="0.5" fill="none"/><rect x="506.8" y="457.5" width="4.8" height="4.8" fill="#4f6a84"/><path d="M509.2 457.5 V462.3 M506.8 459.9 H511.6" stroke="#7f99b0" stroke-width="0.5" fill="none"/><rect x="514.2" y="457.5" width="4.8" height="4.8" fill="#4f6a84"/><path d="M516.6 457.5 V462.3 M514.2 459.9 H519.0" stroke="#7f99b0" stroke-width="0.5" fill="none"/><path d="M504.9 477.6 V468.6 H513.4" stroke="#3f5873" stroke-width="1.3" fill="none"/><circle cx="524.7" cy="476" r="13" fill="#e68f5d" stroke="#4b4a55" stroke-width="1.4"/><g fill="none" stroke="#e8aa87" stroke-width="2" stroke-linejoin="miter"><path d="M665 432 V485.2 H724.2"/></g><rect x="670" y="470" width="8.2" height="11.2" fill="#e8aa87"/><rect x="684.3" y="457.8" width="7.2" height="23.2" fill="#a9c4d8" stroke="#e8aa87" stroke-width="0.9"/><rect x="698" y="463.2" width="7.4" height="17.8" fill="#a9c4d8" stroke="#e8aa87" stroke-width="0.9"/><rect x="711" y="448.9" width="8" height="32.3" fill="#e5a27c"/><path d="M670.2 463.4 L687.4 446 L697.8 456.6 L718.6 435" fill="none" stroke="#e8aa87" stroke-width="1.7" stroke-linejoin="miter"/><path d="M713.6 433 L721.2 432.4 L720.8 440 Z" fill="#e8aa87"/><circle cx="698.6" cy="435.9" r="9.4" fill="#e49b72"/>
<g stroke="#23405f" stroke-width="1.3" stroke-linecap="round" fill="none"><path d="M505.4 524.4 L505.4 529.7"/><path d="M491.1 528.1 L494.1 532.2"/><path d="M519.7 528.1 L516.9 532.6"/><path d="M481.2 537.8 L486.0 541.0"/><path d="M529.6 537.8 L524.7 540.6"/><path d="M476.9 552.3 L483.3 552.3"/><path d="M527.4 552.3 L533.3 552.3"/><path d="M481.2 566.8 L486.6 563.8"/><path d="M529.6 567.1 L524.2 564.0"/></g><path d="M497.9 575.6 C497.9 570.5 495.8 567.3 492.6 563.4 C489.4 559.6 487.6 555.6 487.6 551 C487.6 541.3 495.5 533.5 505.4 533.5 C515.3 533.5 523.2 541.3 523.2 551 C523.2 555.6 521.4 559.6 518.2 563.4 C515 567.3 512.9 570.5 512.9 575.6 Z" fill="#e3a27c" stroke="#27324a" stroke-width="1.4" stroke-linejoin="round"/><path d="M497.3 554 L502.7 560.4 V575 M513.4 554 L508.1 560.4 V575" fill="none" stroke="#7a4a3c" stroke-width="1.2" stroke-linecap="round" stroke-linejoin="round"/><path d="M507.6 538.3 C513.5 539.3 518 544 518.4 550.3" fill="none" stroke="#8a5140" stroke-width="1.2" stroke-linecap="round"/><path d="M500.6 584.4 H509.8 C509.4 587.2 507.6 588.7 505.2 588.7 C502.8 588.7 501 587.2 500.6 584.4 Z" fill="#f1f1f1" stroke="#2d3a52" stroke-width="0.9"/><rect x="497" y="575.8" width="16.6" height="8.7" rx="1.4" fill="#cf9473" stroke="#3a3a4a" stroke-width="1"/><path d="M497.4 578.8 H513.2 M497.4 581.6 H513.2" stroke="#8a5a48" stroke-width="1.1" fill="none"/><g fill="none" stroke="#efb58e" stroke-width="1.3" stroke-linecap="round"><circle cx="693.5" cy="526.0" r="2.7"/><path d="M 693.5 529.0 V 537.8"/><circle cx="681.2" cy="528.7" r="2.7"/><path d="M 683.0 530.9 C 684.6 532.2 684.9 534.0 684.9 537.8"/><circle cx="705.9" cy="528.7" r="2.7"/><path d="M 704.1 530.9 C 702.5 532.2 702.2 534.0 702.2 537.8"/><circle cx="693.5" cy="586.9" r="2.7"/><path d="M 693.5 583.9 V 574.9"/><circle cx="681.7" cy="584.0" r="2.7"/><path d="M 683.5 581.9 C 684.9 580.5 685.2 578.7 685.2 574.9"/><circle cx="705.6" cy="584.6" r="2.7"/><path d="M 703.8 582.4 C 702.4 581.0 702.2 578.9 702.2 574.9"/><circle cx="664.0" cy="556.3" r="2.7"/><path d="M 667.0 556.3 H 675.8"/><circle cx="666.3" cy="543.7" r="2.7"/><path d="M 668.5 545.7 C 669.9 547.3 672.0 547.5 675.8 547.5"/><circle cx="666.7" cy="569.5" r="2.7"/><path d="M 668.9 567.7 C 670.4 566.1 672.4 565.0 675.8 565.0"/><circle cx="723.4" cy="556.3" r="2.7"/><path d="M 720.4 556.3 H 711.6"/><circle cx="720.6" cy="543.2" r="2.7"/><path d="M 718.5 545.1 C 716.9 546.9 715.1 547.5 711.6 547.5"/><circle cx="720.6" cy="569.5" r="2.7"/><path d="M 718.5 567.7 C 716.9 566.1 715.1 565.0 711.6 565.0"/></g><rect x="676" y="538.6" width="35.2" height="35.6" rx="3.2" fill="#d88d65" stroke="#4a3038" stroke-width="1.5"/><g stroke="#2a2f45" stroke-width="1.3" stroke-linecap="round" fill="none"><path d="M689.3 545.6 V549.6 M689.3 563.6 V567.8 M682.6 552.3 H686.4 M700.8 552.3 H704.8"/><path d="M693.6 545.6 V549.6 M693.6 563.6 V567.8 M682.6 556.6 H686.4 M700.8 556.6 H704.8"/><path d="M697.9 545.6 V549.6 M697.9 563.6 V567.8 M682.6 560.9 H686.4 M700.8 560.9 H704.8"/></g><rect x="686.3" y="549.6" width="14.6" height="14.2" rx="2.6" fill="#9dbad3" stroke="#1e2a46" stroke-width="1.6"/>
<rect x="493.6" y="629.3" width="29.8" height="25.8" rx="0.8" fill="#a9bfd0" stroke="#2c4866" stroke-width="1.3"/><rect x="505.4" y="629.3" width="6.1" height="8" fill="#d8a48c" stroke="#2c4866" stroke-width="1.2"/><path d="M513.6 648.9 h6.6 M513.6 652.0 h6.6" stroke="#35506e" stroke-width="1.3" fill="none"/><rect x="478.6" y="655.6" width="29.2" height="25.8" rx="0.8" fill="#a9bfd0" stroke="#2c4866" stroke-width="1.3"/><rect x="490.3" y="655.6" width="6.1" height="8" fill="#d8a48c" stroke="#2c4866" stroke-width="1.2"/><path d="M498.0 675.2 h6.6 M498.0 678.3 h6.6" stroke="#35506e" stroke-width="1.3" fill="none"/><rect x="508.2" y="655.6" width="29.9" height="25.8" rx="0.8" fill="#de8f5f" stroke="#2c4866" stroke-width="1.3"/><rect x="520.1" y="655.6" width="6.1" height="8" fill="#d8a48c" stroke="#2c4866" stroke-width="1.2"/><path d="M528.3 675.2 h6.6 M528.3 678.3 h6.6" stroke="#8a4a34" stroke-width="1.3" fill="none"/><rect x="665" y="637" width="38.2" height="28.6" fill="#e2a381"/><path d="M659.6 644 H676 M658.6 649.7 H677.4 M658 655 H671.6" stroke="#eab08f" stroke-width="1.6" fill="none"/><path d="M703.6 674.2 V647 Q703.6 645.3 705.3 645.3 H714.4 Q715.8 645.3 716.6 646.6 L724.6 659.6 Q725.3 660.8 725.3 662.2 V672.4 Q725.3 674.2 723.5 674.2 Z" fill="#c5815f" stroke="#4a2a30" stroke-width="1.4" stroke-linejoin="round"/><path d="M707 648.6 H714.6 L721.6 658.6 H707 Z" fill="#dc9c7a" stroke="#4a2a30" stroke-width="1.3" stroke-linejoin="round"/><ellipse cx="721.9" cy="664.6" rx="2.6" ry="1.7" fill="#e9c3ad" stroke="#4a2a30" stroke-width="1.1"/><path d="M664.6 665.8 H703.4 V674.2 H666.4 Q664.6 674.2 664.6 672.4 Z" fill="#d49c82" stroke="#4a2a30" stroke-width="1.3" stroke-linejoin="round"/><circle cx="676.9" cy="674" r="5.8" fill="#d49c82" stroke="#4a2a30" stroke-width="1.4"/><circle cx="676.9" cy="674" r="1.9" fill="#b9806a" stroke="#4a2a30" stroke-width="1.1"/><circle cx="712.9" cy="674" r="5.8" fill="#d49c82" stroke="#4a2a30" stroke-width="1.4"/><circle cx="712.9" cy="674" r="1.9" fill="#b9806a" stroke="#4a2a30" stroke-width="1.1"/>
<rect x="1010.2" y="747.8" width="180" height="42.2" rx="7.5" fill="#fff"/><clipPath id="lgc"><rect x="1015.6" y="754.1" width="27.2" height="29.7" rx="2.6"/></clipPath><g clip-path="url(#lgc)"><rect x="1015.6" y="754.1" width="27.2" height="29.7" fill="#1668c4"/><path d="M1015.6 776.2 L1029.7 759.6 L1042.8 774.4 V784 H1015.6 Z" fill="#fff"/><path d="M1015.6 780.4 L1029.7 763.8 L1042.8 777.8 V784 H1015.6 Z" fill="#0c468a"/><path d="M1027.5 783.8 L1031.9 778.1 H1042.8 V783.8 Z" fill="#1b7ad8"/></g>
</svg>
<h1 style="top:30.02px;font-size:47.25px;line-height:47.25px;"><span class="w" style="left:39.61px;transform:scaleX(0.9866);">U.S.</span> <span class="w" style="left:37.34px;transform:scaleX(1.0669);">Plumbing</span> <span class="w" style="left:51.93px;transform:scaleX(1.0790);">Manufacturing</span> <span class="w" style="left:76.72px;transform:scaleX(1.0272);">Economic</span> <span class="w" style="left:83.83px;transform:scaleX(1.0826);">Impact</span></h1>
<div class="t num" style="left:209.12px;top:119.02px;font-size:46.38px;line-height:46.38px;transform:scaleX(1.1272);">$47.7B</div>
<div class="t lab" style="left:155.60px;top:168.02px;font-size:23.33px;line-height:23.33px;transform:scaleX(1.1028);">Direct Economic Impact</div>
<div class="t num" style="left:821.17px;top:119.02px;font-size:46.38px;line-height:46.38px;transform:scaleX(1.0298);">$116.7B</div>
<div class="t lab" style="left:780.11px;top:168.02px;font-size:23.33px;line-height:23.33px;transform:scaleX(1.0979);">Total Economic Impact</div>
<div class="t num" style="left:179.14px;top:220.02px;font-size:46.38px;line-height:46.38px;transform:scaleX(1.1713);">$208,283</div>
<div class="t lab" style="left:227.61px;top:268.02px;font-size:23.33px;line-height:23.33px;transform:scaleX(1.0975);">Direct Jobs</div>
<div class="t num" style="left:804.10px;top:220.02px;font-size:46.38px;line-height:46.38px;transform:scaleX(1.0937);">$517,696</div>
<div class="t lab" style="left:853.72px;top:268.02px;font-size:23.33px;line-height:23.33px;transform:scaleX(1.0656);">Total Jobs</div>
<div class="t num" style="left:215.07px;top:320.02px;font-size:46.38px;line-height:46.38px;transform:scaleX(1.0407);">$13.2B</div>
<div class="t lab" style="left:215.60px;top:369.02px;font-size:23.33px;line-height:23.33px;transform:scaleX(1.1000);">Direct Wages</div>
<div class="t num" style="left:826.61px;top:320.02px;font-size:46.38px;line-height:46.38px;transform:scaleX(1.1111);">$35.3B</div>
<div class="t lab" style="left:841.32px;top:369.02px;font-size:23.33px;line-height:23.33px;transform:scaleX(1.0771);">Total Wages</div>
<div class="t num" style="left:212.59px;top:421.02px;font-size:46.38px;line-height:46.38px;transform:scaleX(1.0695);">$10.5B</div>
<div class="t lab" style="left:151.09px;top:469.02px;font-size:23.33px;line-height:23.33px;transform:scaleX(1.1057);">Direct Capital Investment</div>
<div class="t num" style="left:826.62px;top:421.02px;font-size:46.38px;line-height:46.38px;transform:scaleX(1.1205);">$25.9B</div>
<div class="t lab" style="left:771.71px;top:469.02px;font-size:23.33px;line-height:23.33px;transform:scaleX(1.0991);">Total Capital Investment</div>
<div class="t num" style="left:223.62px;top:521.02px;font-size:46.38px;line-height:46.38px;transform:scaleX(1.1238);">$7.8B</div>
<div class="t lab" style="left:161.63px;top:570.02px;font-size:23.33px;line-height:23.33px;transform:scaleX(1.0831);">Direct R&amp;D Expenditure</div>
<div class="t num" style="left:831.08px;top:521.02px;font-size:46.38px;line-height:46.38px;transform:scaleX(1.0568);">$19.2B</div>
<div class="t lab" style="left:781.31px;top:570.02px;font-size:23.33px;line-height:23.33px;transform:scaleX(1.0828);">Total R&amp;D Expenditure</div>
<div class="t num" style="left:228.57px;top:622.02px;font-size:46.38px;line-height:46.38px;transform:scaleX(1.0386);">$6.1B</div>
<div class="t lab" style="left:122.65px;top:670.02px;font-size:23.33px;line-height:23.33px;transform:scaleX(1.0715);">Direct Supply Chain Purchases</div>
<div class="t num" style="left:828.10px;top:622.02px;font-size:46.38px;line-height:46.38px;transform:scaleX(1.0930);">$14.8B</div>
<div class="t lab" style="left:743.22px;top:670.02px;font-size:23.33px;line-height:23.33px;transform:scaleX(1.0661);">Total Supply Chain Purchases</div>
<div class="t num" style="left:544.56px;top:718.02px;font-size:46.38px;line-height:46.38px;transform:scaleX(1.0148);">$15B</div>
<div class="t lab" style="left:466.12px;top:763.02px;font-size:23.33px;line-height:23.33px;transform:scaleX(1.0570);">Tax Revenue Generated</div>
<div class="t wm" style="left:1048.75px;top:755.02px;font-size:14.20px;line-height:14.20px;transform:scaleX(1.0828);color:#3486cf;">Claremont Software</div>
<div class="t wm2" style="left:1048.72px;top:772.02px;font-size:12.03px;line-height:12.03px;transform:scaleX(1.0559);color:#1f3d6a;">ClaremontSoftware.com</div>
<div class="t ico" style="left:462.49px;top:340.02px;font-size:14.28px;line-height:14.28px;transform:scaleX(0.7464);color:#4d6a86;">$</div>
<div class="t icob" style="left:493.83px;top:341.02px;font-size:6.23px;line-height:6.23px;transform:scaleX(0.9198);color:#4d6a86;">PAYCHECK</div>
<div class="t ico" style="left:672.09px;top:340.02px;font-size:14.28px;line-height:14.28px;transform:scaleX(0.7464);color:#a55c3e;">$</div>
<div class="t ico" style="left:520.09px;top:466.02px;font-size:22.32px;line-height:22.32px;transform:scaleX(0.7634);color:#5a4348;">$</div>
<div class="t ico" style="left:695.40px;top:428.02px;font-size:15.07px;line-height:15.07px;transform:scaleX(0.8007);color:#a45839;">$</div>
</body>
</html>
